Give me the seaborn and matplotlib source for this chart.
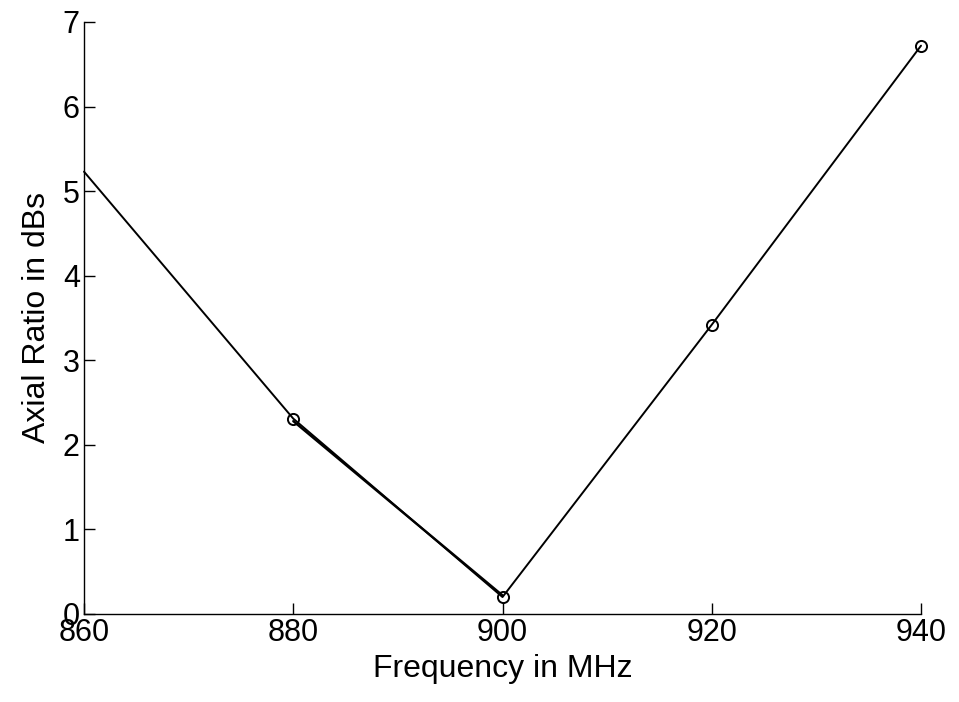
import matplotlib
matplotlib.use("Agg")
import matplotlib.pyplot as plt
import seaborn as sns
import pandas as pd

freq = [860, 880, 900, 920, 940]
axial_ratio = [5.23, 2.31, 0.20, 3.42, 6.72]
# overlapping trace drawn on the lower-left segment
freq_overlap = [880, 900]
axial_overlap = [2.28, 0.22]

x_ticks = [860, 880, 900, 920, 940]
y_ticks = [0, 1, 2, 3, 4, 5, 6, 7]

sns.set_theme(style="white")
plt.rcParams['font.family'] = ['Liberation Sans', 'DejaVu Sans']

fig = plt.figure(figsize=(9.59, 7.02), dpi=100)
ax = fig.add_axes([0.0876, 0.1254, 0.8728, 0.8433])

df = pd.DataFrame({"f": freq, "ar": axial_ratio})
df2 = pd.DataFrame({"f": freq_overlap, "ar": axial_overlap})

sns.lineplot(data=df, x="f", y="ar", ax=ax, color="black", linewidth=1.4,
             marker="o", markersize=8, markerfacecolor="none",
             markeredgecolor="black", markeredgewidth=1.4,
             markevery=[1, 2, 3, 4], clip_on=False)
sns.lineplot(data=df2, x="f", y="ar", ax=ax, color="black", linewidth=1.7)

ax.set_xlim(860, 940)
ax.set_ylim(0, 7)
ax.set_xticks(x_ticks)
ax.set_yticks(y_ticks)
ax.set_xlabel("Frequency in MHz", fontsize=23, labelpad=4, color="black")
ax.set_ylabel("Axial Ratio in dBs", fontsize=23, labelpad=8, color="black")

for s in ["top", "right"]:
    ax.spines[s].set_visible(False)
for s in ["left", "bottom"]:
    ax.spines[s].set_color("black")
    ax.spines[s].set_linewidth(1.0)

ax.tick_params(axis="both", direction="in", length=8, width=1.0,
               labelsize=22, colors="black", pad=3)
ax.tick_params(axis="x", bottom=True)
ax.tick_params(axis="y", left=True)

fig.savefig("out.png", dpi=100, facecolor="white")
